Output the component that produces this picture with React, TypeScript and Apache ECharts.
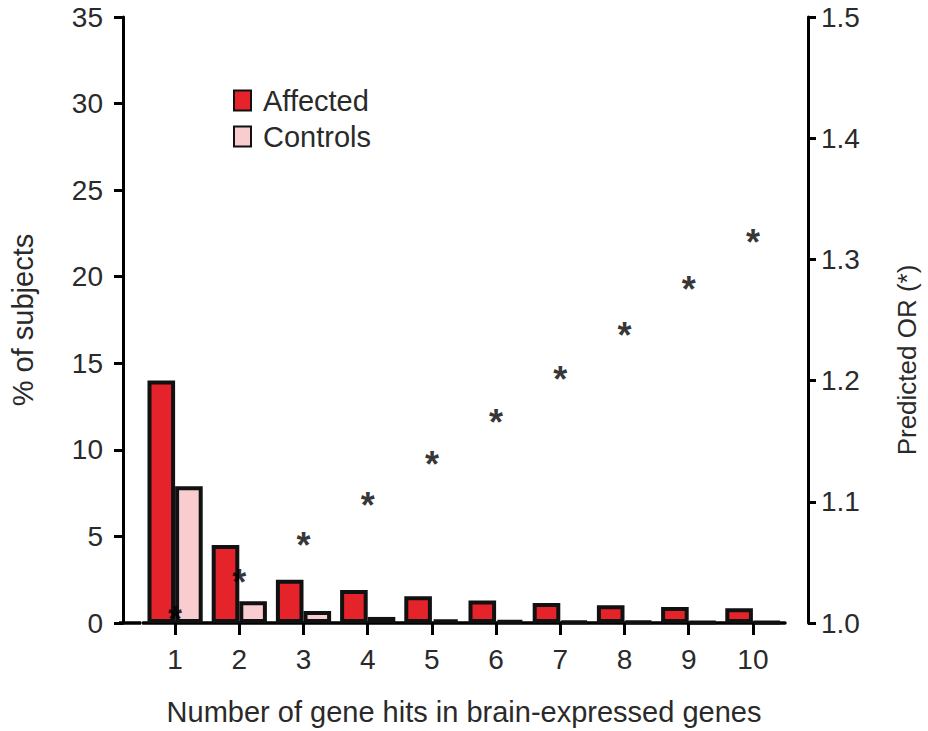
import React, { useEffect, useRef } from "react";
import * as echarts from "echarts";

const categories = ["1", "2", "3", "4", "5", "6", "7", "8", "9", "10"];
const affected = [14.0, 4.5, 2.5, 1.9, 1.55, 1.3, 1.15, 1.03, 0.92, 0.85];
const controls = [7.9, 1.25, 0.7, 0.35, 0.2, 0.15, 0.1, 0.08, 0.06, 0.05];
const predictedOR = [1.01, 1.041, 1.071, 1.104, 1.138, 1.173, 1.208, 1.245, 1.283, 1.321];

const FONT = "'Liberation Sans', Arial, Helvetica, sans-serif";
const TXT = "#2a2a2a";
const GRID_LEFT = 140;
const LEFT_OFFSET = 20;

export default function App() {
  const ref = useRef<HTMLDivElement>(null);
  useEffect(() => {
    if (!ref.current) return;
    const chart = echarts.init(ref.current, undefined, { renderer: "svg" });
    chart.setOption({
      animation: false,
      backgroundColor: "#ffffff",
      textStyle: { fontFamily: FONT },
      grid: { left: GRID_LEFT, right: 132, top: 17, bottom: 102, containLabel: false },
      legend: {
        left: 228,
        top: 81,
        orient: "vertical",
        icon: "rect",
        itemWidth: 17,
        itemHeight: 20,
        itemGap: 7,
        data: ["Affected", "Controls"],
        textStyle: { fontSize: 29, color: TXT, fontFamily: FONT, padding: [0, 0, 0, 7], lineHeight: 29 },
        itemStyle: { borderColor: "#111", borderWidth: 2 },
      },
      xAxis: {
        type: "category",
        data: categories,
        name: "Number of gene hits in brain-expressed genes",
        nameLocation: "middle",
        nameGap: 74,
        nameTextStyle: { fontSize: 29, color: TXT, fontFamily: FONT },
        axisLine: { lineStyle: { color: "#000", width: 3.5 } },
        axisTick: { show: true, alignWithLabel: true, length: 12, lineStyle: { color: "#000", width: 3 } },
        axisLabel: { fontSize: 28, color: TXT, margin: 22, fontFamily: FONT },
        splitLine: { show: false },
      },
      yAxis: [
        {
          type: "value",
          min: 0,
          max: 35,
          interval: 5,
          position: "left",
          offset: LEFT_OFFSET,
          name: "% of subjects",
          nameLocation: "middle",
          nameGap: 86,
          nameTextStyle: { fontSize: 29, color: TXT, fontFamily: FONT },
          axisLine: { show: true, lineStyle: { color: "#000", width: 3 } },
          axisTick: { show: true, length: 9, lineStyle: { color: "#000", width: 3 } },
          axisLabel: { fontSize: 28, color: TXT, margin: 20, fontFamily: FONT },
          splitLine: { show: false },
        },
        {
          type: "value",
          min: 1.0,
          max: 1.5,
          interval: 0.1,
          position: "right",
          offset: 23,
          name: "Predicted OR (*)",
          nameLocation: "middle",
          nameGap: 86,
          nameTextStyle: { fontSize: 26, color: TXT, fontFamily: FONT, padding: [0, 80, 0, 0] },
          axisLine: { show: true, lineStyle: { color: "#000", width: 3 } },
          axisTick: { show: true, length: 8, lineStyle: { color: "#000", width: 3 } },
          axisLabel: { fontSize: 28, color: TXT, margin: 13, fontFamily: FONT, formatter: (v: number) => v.toFixed(1) },
          splitLine: { show: false },
        },
      ],
      series: [
        {
          name: "Affected",
          type: "bar",
          data: affected,
          barGap: "0%",
          barCategoryGap: "14%",
          itemStyle: { color: "#e5232a", borderColor: "#111", borderWidth: 4 },
        },
        {
          name: "Controls",
          type: "bar",
          data: controls,
          itemStyle: { color: "#f9cdd0", borderColor: "#111", borderWidth: 4 },
        },
        {
          name: "Predicted OR",
          type: "scatter",
          yAxisIndex: 1,
          data: predictedOR,
          symbolSize: 1,
          itemStyle: { color: "rgba(0,0,0,0)" },
          z: 5,
          label: {
            show: true,
            position: "inside",
            formatter: "*",
            fontSize: 36,
            fontWeight: "bold",
            color: "#000",
            fontFamily: FONT,
            offset: [0, 9],
          },
        },
      ],
    });
    // extend the baseline from the left axis to the start of the category axis
    const y0 = chart.convertToPixel({ yAxisIndex: 0 }, 0) as number;
    chart.setOption({
      graphic: [
        {
          type: "line",
          shape: { x1: GRID_LEFT - LEFT_OFFSET - 1, y1: y0, x2: GRID_LEFT + 1, y2: y0 },
          style: { stroke: "#000", lineWidth: 3.5 },
          z: 10,
        },
      ],
    });
    return () => chart.dispose();
  }, []);
  return <div ref={ref} style={{ width: 928, height: 731, position: "absolute", left: 0, top: 0 }} />;
}
